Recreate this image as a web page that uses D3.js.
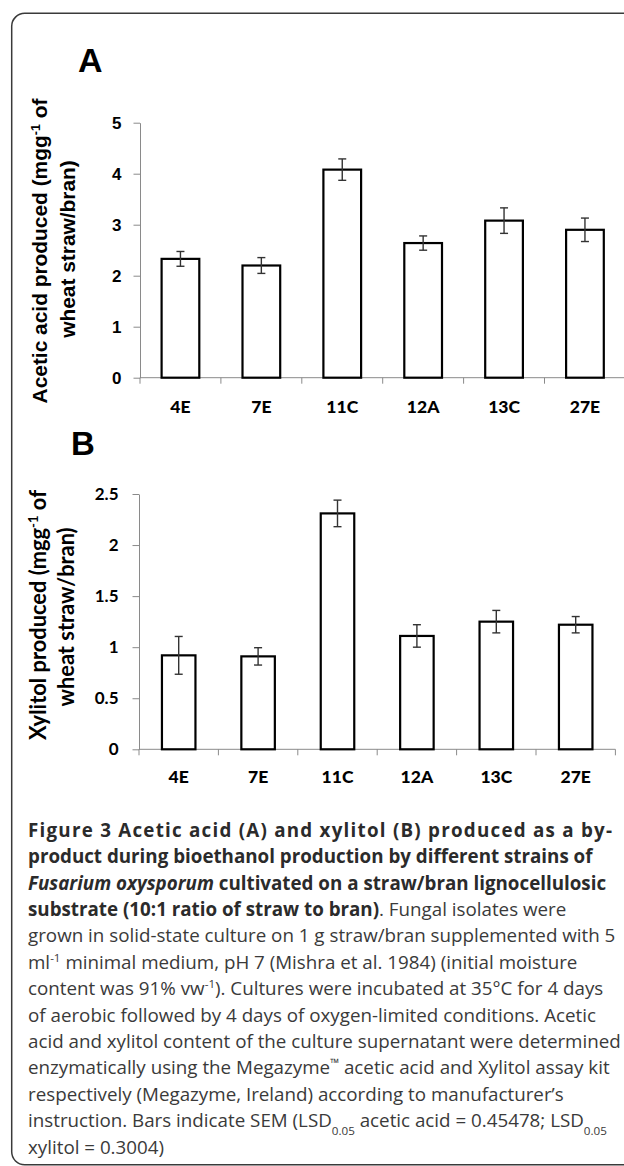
<!DOCTYPE html>
<html>
<head>
<meta charset="utf-8">
<script src="https://cdn.jsdelivr.net/npm/d3@7"></script>
<style>
  html, body { margin: 0; padding: 0; background: #fff; }
  svg { display: block; }
</style>
</head>
<body>
<svg id="chart" width="624" height="1166"></svg>
<script>
// ---------- DATA ----------
const strains = ["4E", "7E", "11C", "12A", "13C", "27E"];
const aceticAcid = [2.33, 2.20, 4.08, 2.64, 3.08, 2.90];
const aceticSem = [0.145, 0.155, 0.21, 0.14, 0.25, 0.23];
const xylitol = [0.92, 0.91, 2.31, 1.11, 1.25, 1.22];
const xylitolSem = [0.185, 0.085, 0.13, 0.11, 0.11, 0.08];
const aceticTicks = [0, 1, 2, 3, 4, 5];
const xylitolTicks = [0, 0.5, 1, 1.5, 2, 2.5];

const svg = d3.select("#chart");

// frame
svg.append("rect")
  .attr("x", 11.7).attr("y", 13.3)
  .attr("width", 700).attr("height", 1151.5)
  .attr("rx", 13).attr("ry", 13)
  .attr("fill", "none").attr("stroke", "#3a3a3a").attr("stroke-width", 1.5);

function panel(opts) {
  const g = svg.append("g");
  const x = d3.scaleBand().domain(strains)
    .range([opts.x0, opts.x1])
    .paddingInner(opts.pad).paddingOuter(opts.pad / 2);
  const y = d3.scaleLinear().domain([0, opts.max]).range([opts.y0, opts.y1]);

  // panel letter
  g.append("text").attr("x", opts.letterX).attr("y", opts.letterY)
    .attr("font-family", "Liberation Sans, Arial, sans-serif")
    .attr("font-weight", "bold").attr("font-size", opts.letterSize)
    .attr("fill", "#000").text(opts.letter);

  // y axis
  const ya = g.append("g").attr("transform", `translate(${opts.x0},0)`)
    .call(d3.axisLeft(y).tickValues(opts.ticks).tickSize(6.5)
      .tickPadding(opts.tickPad).tickSizeOuter(0).tickFormat(d3.format("")));
  ya.select(".domain").attr("stroke", "#8a8a8a").attr("stroke-width", 1);
  ya.selectAll(".tick line").attr("stroke", "#8a8a8a").attr("stroke-width", 1);
  ya.selectAll(".tick text")
    .attr("font-family", opts.tickFont).attr("font-weight", "bold")
    .attr("font-size", opts.tickSize).attr("fill", "#000");

  // x axis line + boundary ticks
  g.append("line").attr("x1", opts.x0).attr("x2", opts.x1)
    .attr("y1", y(0)).attr("y2", y(0))
    .attr("stroke", "#8a8a8a").attr("stroke-width", 1);
  const bounds = d3.range(strains.length + 1).map(k => opts.x0 + k * x.step());
  g.selectAll(".xt").data(bounds).join("line")
    .attr("x1", d => d).attr("x2", d => d)
    .attr("y1", y(0)).attr("y2", y(0) + 6)
    .attr("stroke", "#8a8a8a").attr("stroke-width", 1);

  // category labels
  g.selectAll(".cat").data(strains).join("text")
    .attr("x", d => x(d) + x.bandwidth() / 2)
    .attr("y", opts.catY)
    .attr("text-anchor", "middle")
    .attr("font-family", "Lato, sans-serif").attr("font-weight", "900")
    .attr("font-size", 17.5).attr("fill", "#000")
    .text(d => d);

  // bars
  g.selectAll(".bar").data(opts.values).join("rect")
    .attr("x", (d, i) => x(strains[i]))
    .attr("y", d => y(d))
    .attr("width", x.bandwidth())
    .attr("height", d => y(0) - y(d))
    .attr("fill", "#fff").attr("stroke", "#000").attr("stroke-width", 2.2);

  // error bars
  const eb = g.selectAll(".eb").data(opts.values).join("g");
  const cx = i => x(strains[i]) + x.bandwidth() / 2;
  eb.append("line")
    .attr("x1", (d, i) => cx(i)).attr("x2", (d, i) => cx(i))
    .attr("y1", (d, i) => y(d + opts.sem[i]))
    .attr("y2", (d, i) => y(d - opts.sem[i]));
  eb.append("line")
    .attr("x1", (d, i) => cx(i) - 4).attr("x2", (d, i) => cx(i) + 4)
    .attr("y1", (d, i) => y(d + opts.sem[i]))
    .attr("y2", (d, i) => y(d + opts.sem[i]));
  eb.append("line")
    .attr("x1", (d, i) => cx(i) - 4).attr("x2", (d, i) => cx(i) + 4)
    .attr("y1", (d, i) => y(d - opts.sem[i]))
    .attr("y2", (d, i) => y(d - opts.sem[i]));
  eb.selectAll("line").attr("stroke", "#333").attr("stroke-width", 1.4);

  // y title (two lines, rotated) – both lines share the size fitted on line 1
  const titles = opts.titleLines.map(ln => {
    const t = g.append("text")
      .attr("transform", `translate(${ln.x},${ln.cy}) rotate(-90)`)
      .attr("text-anchor", "middle")
      .attr("font-family", opts.titleFont).attr("font-weight", "bold")
      .attr("fill", "#000");
    ln.parts.forEach(p => {
      const ts = t.append("tspan").text(p.t);
      if (p.sup) ts.attr("baseline-shift", "super").attr("data-small", 1);
    });
    return t;
  });
  function setSize(s) {
    titles.forEach(t => {
      t.attr("font-size", s);
      t.selectAll("tspan[data-small]").attr("font-size", s * 0.6);
    });
  }
  setSize(opts.titleSize);
  const w = titles[0].node().getComputedTextLength();
  setSize(opts.titleSize * opts.titleLen / w);
}

panel({
  letter: "A", letterX: 78, letterY: 72, letterSize: 34,
  x0: 140, x1: 625.4, pad: 0.534, y0: 377.7, y1: 122.7, max: 5,
  ticks: aceticTicks, tickFont: "Liberation Sans, Arial, sans-serif", tickSize: 17, tickPad: 12,
  catY: 412.5, values: aceticAcid, sem: aceticSem,
  titleFont: "Liberation Sans, Arial, sans-serif", titleSize: 19, titleLen: 305,
  titleLines: [
    { x: 47, cy: 251, parts: [{ t: "Acetic acid produced (mgg" }, { t: "-1", sup: true }, { t: " of" }] },
    { x: 75, cy: 249, parts: [{ t: "wheat straw/bran)" }] }
  ]
});

panel({
  letter: "B", letterX: 71, letterY: 455, letterSize: 33,
  x0: 139, x1: 615.4, pad: 0.578, y0: 749.3, y1: 494, max: 2.5,
  ticks: xylitolTicks, tickFont: "Lato, sans-serif", tickSize: 17, tickPad: 14,
  catY: 782.5, values: xylitol, sem: xylitolSem,
  titleFont: "Lato, sans-serif", titleSize: 20, titleLen: 250,
  titleLines: [
    { x: 46, cy: 615, parts: [{ t: "Xylitol produced (mgg" }, { t: "-1", sup: true }, { t: " of" }] },
    { x: 74, cy: 617, parts: [{ t: "wheat straw/bran)" }] }
  ]
});

// ---------- CAPTION ----------
const captionLines = [
  [{ t: "Figure 3 Acetic acid (A) and xylitol (B) produced as a by-", b: 1 }],
  [{ t: "product during bioethanol production by different strains of", b: 1 }],
  [{ t: "Fusarium oxysporum", b: 1, i: 1 }, { t: " cultivated on a straw/bran lignocellulosic", b: 1 }],
  [{ t: "substrate (10:1 ratio of straw to bran)", b: 1 }, { t: ". Fungal isolates were" }],
  [{ t: "grown in solid-state culture on 1 g straw/bran supplemented with 5" }],
  [{ t: "ml" }, { t: "-1", sup: 1 }, { t: " minimal medium, pH 7 (Mishra et al. 1984) (initial moisture" }],
  [{ t: "content was 91% vw" }, { t: "-1", sup: 1 }, { t: "). Cultures were incubated at 35°C for 4 days" }],
  [{ t: "of aerobic followed by 4 days of oxygen-limited conditions. Acetic" }],
  [{ t: "acid and xylitol content of the culture supernatant were determined" }],
  [{ t: "enzymatically using the Megazyme" }, { t: "™", sup: 1 }, { t: " acetic acid and Xylitol assay kit" }],
  [{ t: "respectively (Megazyme, Ireland) according to manufacturer’s" }],
  [{ t: "instruction. Bars indicate SEM (LSD" }, { t: "0.05", sub: 1 }, { t: " acetic acid = 0.45478; LSD" }, { t: "0.05", sub: 1 }],
  [{ t: "xylitol = 0.3004)" }]
];

const cap = svg.append("g");
let capSize = 18;
const capTexts = captionLines.map((parts, k) => {
  const t = cap.append("text")
    .attr("x", 28).attr("y", 836.7 + k * 26.4)
    .attr("font-family", "Open Sans, sans-serif")
    .attr("fill", "#3a3a3a");
  parts.forEach(p => {
    const ts = t.append("tspan").text(p.t);
    if (p.b) ts.attr("font-weight", "bold").attr("fill", "#2b2b2b");
    if (p.i) ts.attr("font-style", "italic");
    if (p.sup) ts.attr("baseline-shift", "super").attr("data-small", 1);
    if (p.sub) ts.attr("baseline-shift", "sub").attr("data-small", 1);
  });
  return t;
});
function setCapSize(s) {
  capTexts.forEach(t => {
    t.attr("font-size", s);
    t.selectAll("tspan[data-small]").attr("font-size", s * 0.62);
  });
}
setCapSize(capSize);
// fit the reference's regular line width
const w5 = capTexts[4].node().getComputedTextLength();
capSize = capSize * 588 / w5;
setCapSize(capSize);
// first line is justified to the right margin in the reference
const l1 = capTexts[0];
const w1 = l1.node().getComputedTextLength();
const n1 = captionLines[0][0].t.length - 1;
l1.attr("letter-spacing", (584 - w1) / n1);
</script>
</body>
</html>
